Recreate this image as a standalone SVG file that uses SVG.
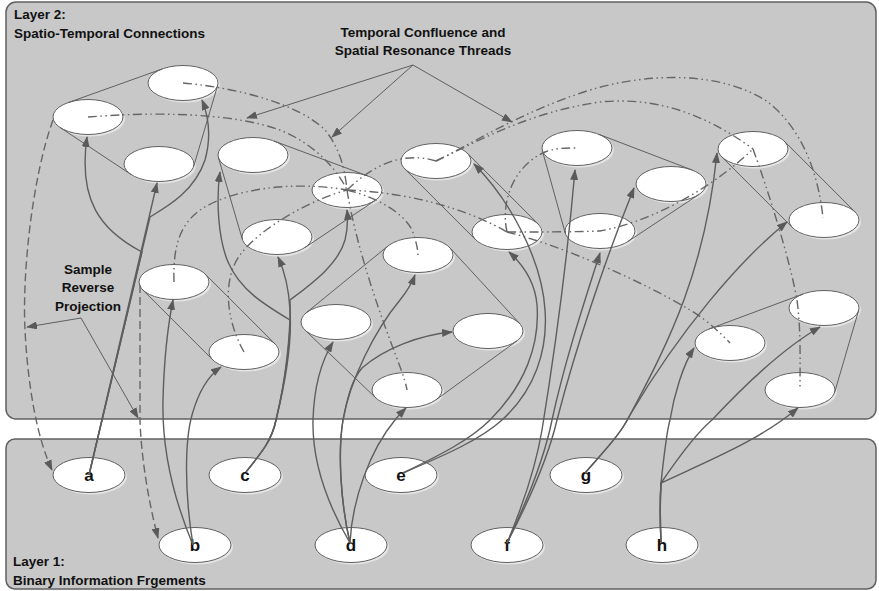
<svg xmlns="http://www.w3.org/2000/svg" width="879" height="591" viewBox="0 0 879 591">
<style>
.panel{fill:#c8c8c8;stroke:#606060;stroke-width:1.5}
.sh{fill:#e4e4e4;stroke:none}
.el{fill:#ffffff;stroke:#606060;stroke-width:1}
.hull{fill:none;stroke:#606060;stroke-width:1}
.thr{fill:none;stroke:#666666;stroke-width:1.4;stroke-dasharray:9 3.5 1.5 3.5 1.5 3.5}
.arr{fill:none;stroke:#5e5e5e;stroke-width:1.4;marker-end:url(#ah)}
.dsh{fill:none;stroke:#666666;stroke-width:1.4;stroke-dasharray:8 4;marker-end:url(#ah)}
.ptr{fill:none;stroke:#5e5e5e;stroke-width:1;marker-end:url(#ah)}
.lbl{font-family:"Liberation Sans",Arial,sans-serif;font-weight:bold;font-size:13.5px;fill:#111}
.nl{font-family:"Liberation Sans",Arial,sans-serif;font-weight:bold;font-size:17px;fill:#111;text-anchor:middle}
</style>
<defs>
<marker id="ah" markerUnits="userSpaceOnUse" markerWidth="11" markerHeight="8" refX="10" refY="4" orient="auto">
<path d="M0,0 L11,4 L0,8 z" fill="#5a5a5a"/>
</marker>
</defs>
<rect width="879" height="591" fill="#ffffff"/>
<g id="panels">
<rect id="layer2" class="panel" x="6" y="2" width="870" height="417" rx="10"/>
<rect id="layer1" class="panel" x="6" y="439" width="870" height="150" rx="9"/>
</g>
<g id="layer-labels">
<text class="lbl" x="14" y="19">Layer 2:</text>
<text class="lbl" x="14" y="38">Spatio-Temporal Connections</text>
<text class="lbl" x="423" y="36.5" text-anchor="middle">Temporal Confluence and</text>
<text class="lbl" x="423" y="54.5" text-anchor="middle">Spatial Resonance Threads</text>
<text class="lbl" x="88" y="273.5" text-anchor="middle">Sample</text>
<text class="lbl" x="88" y="292" text-anchor="middle">Reverse</text>
<text class="lbl" x="88" y="310.5" text-anchor="middle">Projection</text>
<text class="lbl" x="13" y="566">Layer 1:</text>
<text class="lbl" x="13" y="585">Binary Information Frgements</text>
</g>
<g id="n1"><ellipse class="sh" cx="185" cy="85" rx="35" ry="17.5"/><ellipse class="el" cx="183" cy="83" rx="35" ry="17.5"/></g>
<g id="n2"><ellipse class="sh" cx="90" cy="119" rx="35" ry="17.5"/><ellipse class="el" cx="88" cy="117" rx="35" ry="17.5"/></g>
<g id="n3"><ellipse class="sh" cx="161" cy="166" rx="35" ry="17.5"/><ellipse class="el" cx="159" cy="164" rx="35" ry="17.5"/></g>
<g id="n4"><ellipse class="sh" cx="255" cy="157" rx="35" ry="17.5"/><ellipse class="el" cx="253" cy="155" rx="35" ry="17.5"/></g>
<g id="n5"><ellipse class="sh" cx="279" cy="239" rx="35" ry="17.5"/><ellipse class="el" cx="277" cy="237" rx="35" ry="17.5"/></g>
<g id="n6"><ellipse class="sh" cx="349" cy="192" rx="35" ry="17.5"/><ellipse class="el" cx="347" cy="190" rx="35" ry="17.5"/></g>
<g id="n7"><ellipse class="sh" cx="176" cy="284" rx="35" ry="17.5"/><ellipse class="el" cx="174" cy="282" rx="35" ry="17.5"/></g>
<g id="n8"><ellipse class="sh" cx="246" cy="354" rx="35" ry="17.5"/><ellipse class="el" cx="244" cy="352" rx="35" ry="17.5"/></g>
<g id="n9"><ellipse class="sh" cx="420" cy="257" rx="35" ry="17.5"/><ellipse class="el" cx="418" cy="255" rx="35" ry="17.5"/></g>
<g id="n10"><ellipse class="sh" cx="338" cy="324" rx="35" ry="17.5"/><ellipse class="el" cx="336" cy="322" rx="35" ry="17.5"/></g>
<g id="n11"><ellipse class="sh" cx="490" cy="333" rx="35" ry="17.5"/><ellipse class="el" cx="488" cy="331" rx="35" ry="17.5"/></g>
<g id="n12"><ellipse class="sh" cx="409" cy="392" rx="35" ry="17.5"/><ellipse class="el" cx="407" cy="390" rx="35" ry="17.5"/></g>
<g id="n13"><ellipse class="sh" cx="438" cy="163" rx="35" ry="17.5"/><ellipse class="el" cx="436" cy="161" rx="35" ry="17.5"/></g>
<g id="n14"><ellipse class="sh" cx="509" cy="234" rx="35" ry="17.5"/><ellipse class="el" cx="507" cy="232" rx="35" ry="17.5"/></g>
<g id="n15"><ellipse class="sh" cx="579" cy="150" rx="35" ry="17.5"/><ellipse class="el" cx="577" cy="148" rx="35" ry="17.5"/></g>
<g id="n16"><ellipse class="sh" cx="602" cy="233" rx="35" ry="17.5"/><ellipse class="el" cx="600" cy="231" rx="35" ry="17.5"/></g>
<g id="n17"><ellipse class="sh" cx="673" cy="186" rx="35" ry="17.5"/><ellipse class="el" cx="671" cy="184" rx="35" ry="17.5"/></g>
<g id="n18"><ellipse class="sh" cx="755" cy="151" rx="35" ry="17.5"/><ellipse class="el" cx="753" cy="149" rx="35" ry="17.5"/></g>
<g id="n19"><ellipse class="sh" cx="826" cy="222" rx="35" ry="17.5"/><ellipse class="el" cx="824" cy="220" rx="35" ry="17.5"/></g>
<g id="n20"><ellipse class="sh" cx="826" cy="310" rx="35" ry="17.5"/><ellipse class="el" cx="824" cy="308" rx="35" ry="17.5"/></g>
<g id="n21"><ellipse class="sh" cx="732" cy="345" rx="35" ry="17.5"/><ellipse class="el" cx="730" cy="343" rx="35" ry="17.5"/></g>
<g id="n22"><ellipse class="sh" cx="802" cy="392" rx="35" ry="17.5"/><ellipse class="el" cx="800" cy="390" rx="35" ry="17.5"/></g>
<g id="node-a"><ellipse class="sh" cx="91" cy="477" rx="36" ry="17.5"/><ellipse class="el" cx="89" cy="475" rx="36" ry="17.5"/><text class="nl" x="89" y="481">a</text></g>
<g id="node-b"><ellipse class="sh" cx="197" cy="547" rx="36" ry="17.5"/><ellipse class="el" cx="195" cy="545" rx="36" ry="17.5"/><text class="nl" x="195" y="551">b</text></g>
<g id="node-c"><ellipse class="sh" cx="247" cy="477" rx="36" ry="17.5"/><ellipse class="el" cx="245" cy="475" rx="36" ry="17.5"/><text class="nl" x="245" y="481">c</text></g>
<g id="node-d"><ellipse class="sh" cx="353" cy="547" rx="36" ry="17.5"/><ellipse class="el" cx="351" cy="545" rx="36" ry="17.5"/><text class="nl" x="351" y="551">d</text></g>
<g id="node-e"><ellipse class="sh" cx="403" cy="477" rx="36" ry="17.5"/><ellipse class="el" cx="401" cy="475" rx="36" ry="17.5"/><text class="nl" x="401" y="481">e</text></g>
<g id="node-f"><ellipse class="sh" cx="509" cy="547" rx="36" ry="17.5"/><ellipse class="el" cx="507" cy="545" rx="36" ry="17.5"/><text class="nl" x="507" y="551">f</text></g>
<g id="node-g"><ellipse class="sh" cx="588" cy="477" rx="36" ry="17.5"/><ellipse class="el" cx="586" cy="475" rx="36" ry="17.5"/><text class="nl" x="586" y="481">g</text></g>
<g id="node-h"><ellipse class="sh" cx="664" cy="547" rx="36" ry="17.5"/><ellipse class="el" cx="662" cy="545" rx="36" ry="17.5"/><text class="nl" x="662" y="551">h</text></g>
<g id="connectors">
<g id="hulls">
<path class="hull" d="M67.6,102.8 L162.6,68.8"/>
<path class="hull" d="M217.6,85.6 L193.6,166.6"/>
<path class="hull" d="M60.1,127.5 L131.1,174.5"/>
<path class="hull" d="M218.4,157.5 L242.4,239.5"/>
<path class="hull" d="M305.1,247.5 L375.1,200.5"/>
<path class="hull" d="M273.9,141 L367.9,176"/>
<path class="hull" d="M205.3,274.2 L275.3,344.2"/>
<path class="hull" d="M142.7,289.8 L212.7,359.8"/>
<path class="hull" d="M306.1,312.9 L388.1,245.9"/>
<path class="hull" d="M449.8,247.7 L519.8,323.7"/>
<path class="hull" d="M305,330.1 L376,398.1"/>
<path class="hull" d="M435.9,399.9 L516.9,340.9"/>
<path class="hull" d="M467.3,153.2 L538.3,224.2"/>
<path class="hull" d="M404.7,168.8 L475.7,239.8"/>
<path class="hull" d="M598.3,134.1 L692.3,170.1"/>
<path class="hull" d="M627.9,241.5 L698.9,194.5"/>
<path class="hull" d="M542.3,150.4 L565.3,233.4"/>
<path class="hull" d="M784.3,141.2 L855.3,212.2"/>
<path class="hull" d="M721.7,156.8 L792.7,227.8"/>
<path class="hull" d="M709.1,329 L803.1,294"/>
<path class="hull" d="M858.6,310.5 L834.6,392.5"/>
</g>
<g id="threads">
<path class="thr" d="M183,83 C240,88 300,105 325,130 C340,148 345,170 347,190"/>
<path class="thr" d="M88,117 C150,112 230,112 280,130 C310,142 335,165 347,190"/>
<path class="thr" d="M174,282 C173,245 180,225 200,210 C230,190 290,180 347,190"/>
<path class="thr" d="M244,352 C226,320 222,280 240,255 C260,228 310,200 347,190"/>
<path class="thr" d="M347,190 C380,198 405,215 412,230 C416,240 418,250 418,255"/>
<path class="thr" d="M347,190 C355,240 375,300 390,340 C398,362 405,378 407,390"/>
<path class="thr" d="M347,190 C370,168 400,150 436,161"/>
<path class="thr" d="M347,190 C400,192 460,205 507,232"/>
<path class="thr" d="M436,161 C470,145 520,112 590,90 C650,72 720,72 765,100 C800,125 818,170 823,218"/>
<path class="thr" d="M436,161 C480,140 530,112 600,102 C650,97 700,110 753,149"/>
<path class="thr" d="M507,232 C500,200 515,165 545,152 C555,148 565,148 577,148"/>
<path class="thr" d="M507,232 C540,232 570,232 600,231 C650,222 710,190 753,149"/>
<path class="thr" d="M507,232 C560,245 640,280 690,310 C710,322 722,335 730,343"/>
<path class="thr" d="M753,149 C768,190 790,260 797,300 C801,330 800,360 800,390"/>
</g>
<g id="projections">
<path class="arr" d="M89,475 L157,183"/>
<path class="arr" d="M89,475 L142,252 C100,230 78,200 87,137"/>
<path class="arr" d="M89,475 L150,217 C170,205 195,190 205,160 C212,135 208,115 202,100"/>
<path class="arr" d="M193,545 C170,490 162,440 163,400 C164,360 168,325 173,300"/>
<path class="arr" d="M193,545 C184,490 185,440 192,415 C197,397 205,378 221,367"/>
<path class="arr" d="M246,472 C262,452 272,440 276,420 C286,380 292,340 290,310 C289,290 284,270 278,257"/>
<path class="arr" d="M246,472 C262,452 272,440 276,420 C284,385 290,345 290,320 C265,305 240,290 228,262 C218,238 216,200 220,172"/>
<path class="arr" d="M246,472 C262,452 272,440 276,420 C286,380 291,330 290,300 C310,285 338,265 345,240 C348,228 348,220 347,210"/>
<path class="arr" d="M350,543 C325,500 312,460 313,420 C314,385 322,360 333,342"/>
<path class="arr" d="M350,543 C340,500 338,450 343,420 C350,380 375,330 400,300 C408,290 412,283 415,275"/>
<path class="arr" d="M350,543 C340,500 338,450 343,420 C348,395 352,380 362,368 C385,348 420,335 452,332"/>
<path class="arr" d="M350,543 C352,500 370,450 395,420 C398,416 402,412 406,408"/>
<path class="arr" d="M403,473 C440,455 470,440 490,420 C525,385 540,345 537,305 C535,280 520,262 509,252"/>
<path class="arr" d="M403,473 C445,455 480,440 502,420 C535,390 548,350 545,310 C542,260 510,200 474,164"/>
<path class="arr" d="M507,543 C525,500 537,460 542,430 C555,350 568,250 575,170"/>
<path class="arr" d="M507,543 C530,495 546,450 552,420 C565,360 585,300 600,253"/>
<path class="arr" d="M507,543 C532,495 550,450 557,420 C575,350 605,260 634,188"/>
<path class="arr" d="M585,473 C605,450 620,435 630,415 C670,340 705,270 717,153"/>
<path class="arr" d="M585,473 C605,450 620,435 630,415 C680,330 740,260 787,222"/>
<path class="arr" d="M661,543 C660,520 660,500 661,483 C664,455 667,430 670,420 C674,395 683,365 694,348"/>
<path class="arr" d="M661,543 C660,520 660,500 661,483 C680,455 700,430 712,420 C740,390 780,350 820,327"/>
<path class="arr" d="M661,543 C660,520 660,500 661,483 C710,460 760,440 798,408"/>
</g>
<g id="reverse">
<path class="dsh" d="M53,120 C33,175 22,270 25,330 C28,390 38,440 52,470"/>
<path class="dsh" d="M140,285 L140,420 C141,455 148,500 158,538"/>
</g>
<g id="pointers">
<path class="ptr" d="M413,65 L247,118"/>
<path class="ptr" d="M413,65 L332,137"/>
<path class="ptr" d="M413,65 L512,122"/>
<path class="ptr" d="M81,318 L27,327"/>
<path class="ptr" d="M81,318 L138,418"/>
</g>
</g>
</svg>
